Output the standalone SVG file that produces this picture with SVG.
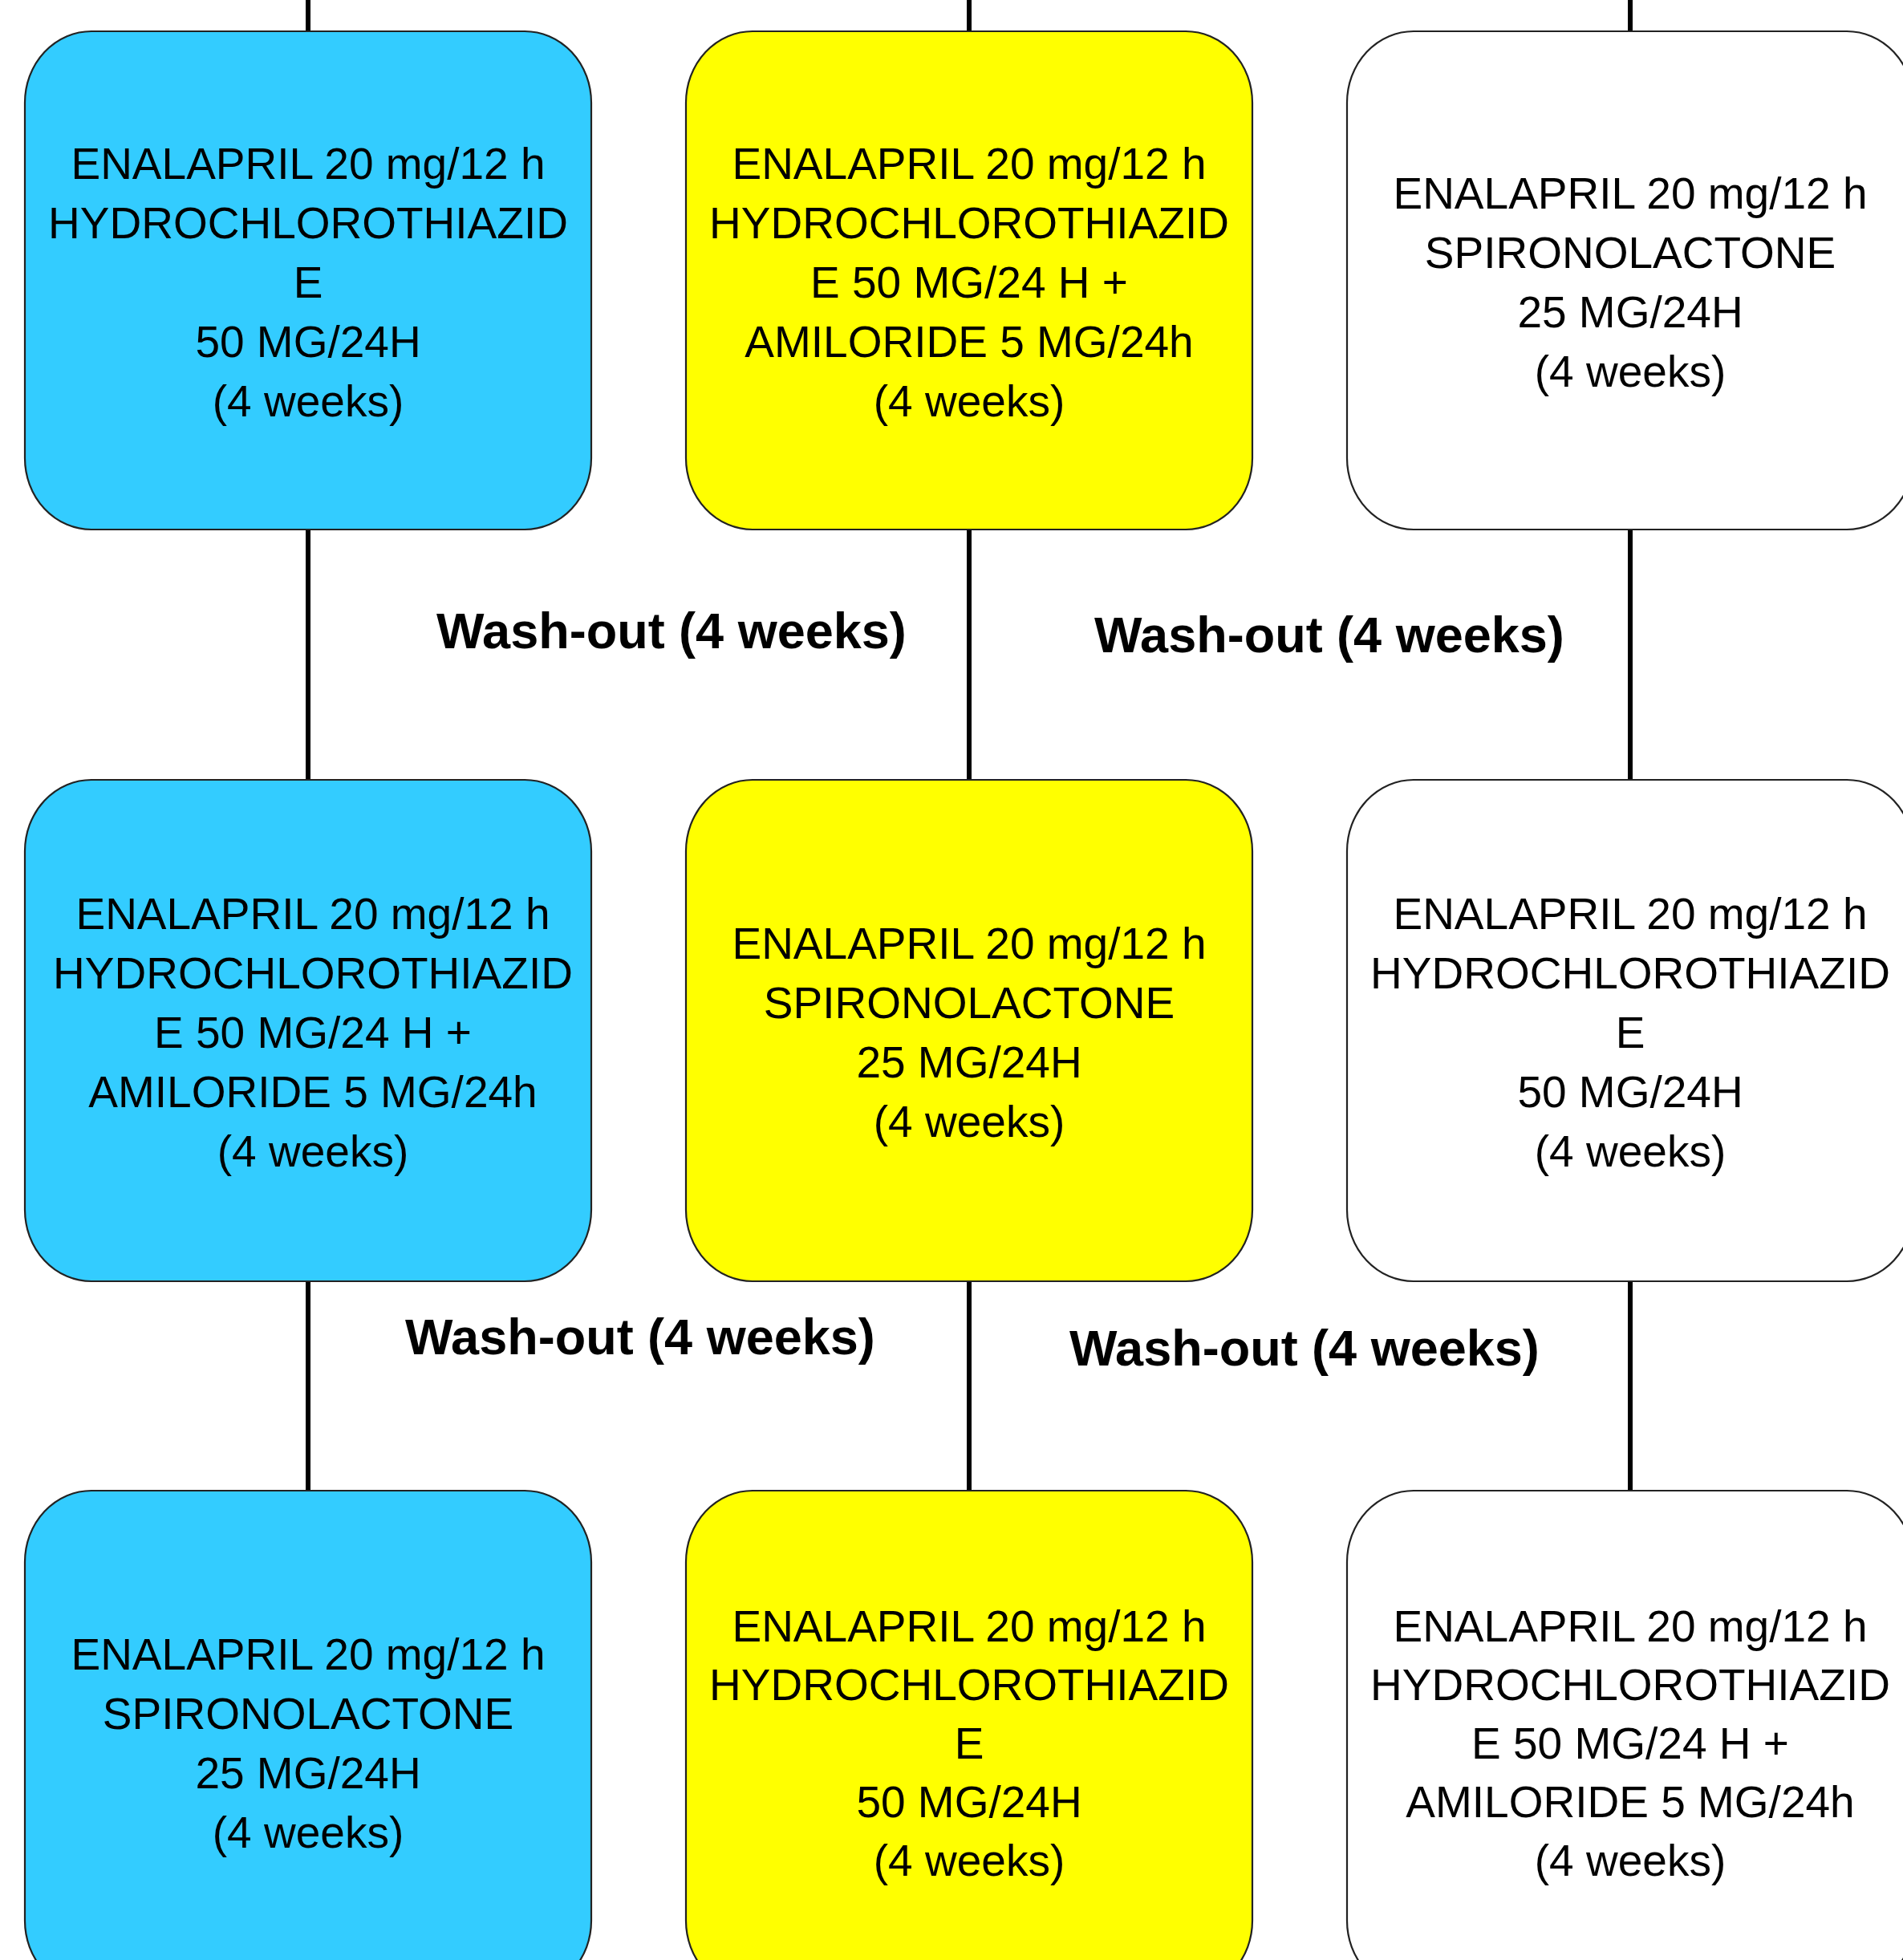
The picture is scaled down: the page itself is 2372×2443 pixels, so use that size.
<svg xmlns="http://www.w3.org/2000/svg" width="2372" height="2443" viewBox="0 0 2372 2443">
<style>
.box{stroke:#222;stroke-width:2.2}
.blue{fill:#33CCFF}
.yellow{fill:#FFFF00}
.white{fill:#FFFFFF}
.t{font-family:"Liberation Sans",Arial,sans-serif;font-size:55px;fill:#000;text-anchor:middle}
.w{font-family:"Liberation Sans",Arial,sans-serif;font-size:63px;font-weight:bold;fill:#000}
.c{stroke:#000;stroke-width:6;fill:none}
</style>
<rect x="0" y="0" width="2372" height="2443" fill="#FFFFFF"/>
<g id="connectors">
<line class="c" x1="384" y1="0" x2="384" y2="40"/>
<line class="c" x1="1208" y1="0" x2="1208" y2="40"/>
<line class="c" x1="2032" y1="0" x2="2032" y2="40"/>
<line class="c" x1="384" y1="660" x2="384" y2="972"/>
<line class="c" x1="1208" y1="660" x2="1208" y2="972"/>
<line class="c" x1="2032" y1="660" x2="2032" y2="972"/>
<line class="c" x1="384" y1="1597" x2="384" y2="1858"/>
<line class="c" x1="1208" y1="1597" x2="1208" y2="1858"/>
<line class="c" x1="2032" y1="1597" x2="2032" y2="1858"/>
</g>
<g id="n1">
<rect class="box blue" x="31" y="39" width="706" height="621" rx="83" ry="89"/>
<text class="t" x="384" y="223">ENALAPRIL 20 mg/12 h</text>
<text class="t" x="384" y="297">HYDROCHLOROTHIAZID</text>
<text class="t" x="384" y="371">E</text>
<text class="t" x="384" y="445">50 MG/24H</text>
<text class="t" x="384" y="519">(4 weeks)</text>
</g>
<g id="n2">
<rect class="box yellow" x="855" y="39" width="706" height="621" rx="83" ry="89"/>
<text class="t" x="1208" y="223">ENALAPRIL 20 mg/12 h</text>
<text class="t" x="1208" y="297">HYDROCHLOROTHIAZID</text>
<text class="t" x="1208" y="371">E 50 MG/24 H +</text>
<text class="t" x="1208" y="445">AMILORIDE 5 MG/24h</text>
<text class="t" x="1208" y="519">(4 weeks)</text>
</g>
<g id="n3">
<rect class="box white" x="1679" y="39" width="706" height="621" rx="83" ry="89"/>
<text class="t" x="2032" y="260">ENALAPRIL 20 mg/12 h</text>
<text class="t" x="2032" y="334">SPIRONOLACTONE</text>
<text class="t" x="2032" y="408">25 MG/24H</text>
<text class="t" x="2032" y="482">(4 weeks)</text>
</g>
<g id="wash1"><text class="w" x="544" y="808">Wash-out (4 weeks)</text></g>
<g id="wash2"><text class="w" x="1364" y="813">Wash-out (4 weeks)</text></g>
<g id="n4">
<rect class="box blue" x="31" y="972" width="706" height="625" rx="83" ry="89"/>
<text class="t" x="390" y="1158">ENALAPRIL 20 mg/12 h</text>
<text class="t" x="390" y="1232">HYDROCHLOROTHIAZID</text>
<text class="t" x="390" y="1306">E 50 MG/24 H +</text>
<text class="t" x="390" y="1380">AMILORIDE 5 MG/24h</text>
<text class="t" x="390" y="1454">(4 weeks)</text>
</g>
<g id="n5">
<rect class="box yellow" x="855" y="972" width="706" height="625" rx="83" ry="89"/>
<text class="t" x="1208" y="1195">ENALAPRIL 20 mg/12 h</text>
<text class="t" x="1208" y="1269">SPIRONOLACTONE</text>
<text class="t" x="1208" y="1343">25 MG/24H</text>
<text class="t" x="1208" y="1417">(4 weeks)</text>
</g>
<g id="n6">
<rect class="box white" x="1679" y="972" width="706" height="625" rx="83" ry="89"/>
<text class="t" x="2032" y="1158">ENALAPRIL 20 mg/12 h</text>
<text class="t" x="2032" y="1232">HYDROCHLOROTHIAZID</text>
<text class="t" x="2032" y="1306">E</text>
<text class="t" x="2032" y="1380">50 MG/24H</text>
<text class="t" x="2032" y="1454">(4 weeks)</text>
</g>
<g id="wash3"><text class="w" x="505" y="1688">Wash-out (4 weeks)</text></g>
<g id="wash4"><text class="w" x="1333" y="1702">Wash-out (4 weeks)</text></g>
<g id="n7">
<rect class="box blue" x="31" y="1858" width="706" height="625" rx="83" ry="89"/>
<text class="t" x="384" y="2081">ENALAPRIL 20 mg/12 h</text>
<text class="t" x="384" y="2155">SPIRONOLACTONE</text>
<text class="t" x="384" y="2229">25 MG/24H</text>
<text class="t" x="384" y="2303">(4 weeks)</text>
</g>
<g id="n8">
<rect class="box yellow" x="855" y="1858" width="706" height="625" rx="83" ry="89"/>
<text class="t" x="1208" y="2046">ENALAPRIL 20 mg/12 h</text>
<text class="t" x="1208" y="2119">HYDROCHLOROTHIAZID</text>
<text class="t" x="1208" y="2192">E</text>
<text class="t" x="1208" y="2265">50 MG/24H</text>
<text class="t" x="1208" y="2338">(4 weeks)</text>
</g>
<g id="n9">
<rect class="box white" x="1679" y="1858" width="706" height="625" rx="83" ry="89"/>
<text class="t" x="2032" y="2046">ENALAPRIL 20 mg/12 h</text>
<text class="t" x="2032" y="2119">HYDROCHLOROTHIAZID</text>
<text class="t" x="2032" y="2192">E 50 MG/24 H +</text>
<text class="t" x="2032" y="2265">AMILORIDE 5 MG/24h</text>
<text class="t" x="2032" y="2338">(4 weeks)</text>
</g>
</svg>
